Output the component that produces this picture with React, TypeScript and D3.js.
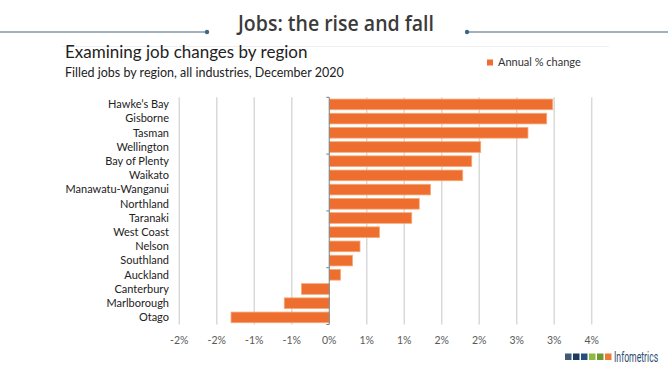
import React, { useEffect, useRef } from 'react';
import * as d3 from 'd3';

// Regions, top to bottom, and annual % change in filled jobs
const regions = [
  'Hawke\u2019s Bay', 'Gisborne', 'Tasman', 'Wellington', 'Bay of Plenty', 'Waikato',
  'Manawatu-Wanganui', 'Northland', 'Taranaki', 'West Coast', 'Nelson', 'Southland',
  'Auckland', 'Canterbury', 'Marlborough', 'Otago',
];
const annualChange = [
  2.98, 2.9, 2.65, 2.02, 1.9, 1.78, 1.35, 1.2, 1.1, 0.67, 0.41, 0.31, 0.15, -0.37, -0.6, -1.31,
];
const tickValues = [-2, -1.5, -1, -0.5, 0, 0.5, 1, 1.5, 2, 2.5, 3, 3.5];
const tickLabels = ['-2%', '-2%', '-1%', '-1%', '0%', '1%', '1%', '2%', '2%', '3%', '3%', '4%'];
const logoColors = ['#3e5b78', '#1d3b5e', '#24507f', '#8dbb3e', '#6f9a33', '#ee7a33'];

const App = () => {
  const chartRef = useRef<SVGSVGElement>(null);

  useEffect(() => {
    document.body.style.margin = '0';
    const width = 668;
    const height = 371;
    const font = 'Lato, "Open Sans", sans-serif';

    const svg = d3.select(chartRef.current)
      .attr('width', width)
      .attr('height', height)
      .style('display', 'block')
      .style('background', '#fff');
    svg.selectAll('*').remove();

    // Header
    const lineColor = '#45667f';
    svg.append('line').attr('x1', 0).attr('x2', 207).attr('y1', 32).attr('y2', 32)
      .attr('stroke', lineColor).attr('stroke-width', 1.2);
    svg.append('line').attr('x1', 467).attr('x2', width).attr('y1', 32).attr('y2', 32)
      .attr('stroke', lineColor).attr('stroke-width', 1.2);
    svg.append('circle').attr('cx', 207).attr('cy', 32).attr('r', 2.2).attr('fill', lineColor);
    svg.append('circle').attr('cx', 467).attr('cy', 32).attr('r', 2.2).attr('fill', lineColor);
    svg.append('text')
      .attr('x', 336).attr('y', 31)
      .attr('text-anchor', 'middle')
      .attr('font-family', '"Open Sans", sans-serif')
      .attr('font-weight', 600)
      .attr('font-size', 21)
      .attr('textLength', 196)
      .attr('lengthAdjust', 'spacingAndGlyphs')
      .attr('fill', '#3b3b3b')
      .text('Jobs: the rise and fall');
    svg.append('line').attr('x1', 62).attr('x2', 609).attr('y1', 46.5).attr('y2', 46.5)
      .attr('stroke', '#f0f0f0').attr('stroke-width', 1);

    svg.append('text')
      .attr('x', 65).attr('y', 58)
      .attr('font-family', font)
      .attr('font-size', 17)
      .attr('fill', '#222')
      .text('Examining job changes by region');
    svg.append('text')
      .attr('x', 65).attr('y', 77)
      .attr('font-family', font)
      .attr('font-size', 12.5)
      .attr('fill', '#222')
      .text('Filled jobs by region, all industries, December 2020');

    // Legend
    svg.append('rect').attr('x', 487).attr('y', 59.5).attr('width', 6).attr('height', 6)
      .attr('fill', '#ed6e2e');
    svg.append('text')
      .attr('x', 498).attr('y', 66)
      .attr('font-family', font)
      .attr('font-size', 11)
      .attr('fill', '#333')
      .text('Annual % change');

    // Scales
    const x = d3.scaleLinear().domain([-2, 3.5]).range([179.3, 591.7]);
    const y = d3.scaleBand().domain(regions).range([97.3, 324.5]).paddingInner(0.25).paddingOuter(0.125);
    const band = d3.scaleBand().domain(regions).range([97.3, 324.5]);

    // Gridlines
    svg.append('g')
      .selectAll('line')
      .data(tickValues.filter(v => v !== 0))
      .enter().append('line')
      .attr('x1', d => x(d)).attr('x2', d => x(d))
      .attr('y1', 97.3).attr('y2', 324.5)
      .attr('stroke', '#d9d9d9')
      .attr('stroke-width', 1.5);

    // Bars
    svg.append('g')
      .selectAll('rect')
      .data(annualChange)
      .enter().append('rect')
      .attr('x', d => x(Math.min(0, d)))
      .attr('y', (_, i) => y(regions[i]) as number)
      .attr('width', d => Math.abs(x(d) - x(0)))
      .attr('height', y.bandwidth())
      .attr('fill', '#ed6e2e')
      .attr('stroke', '#f6a878')
      .attr('stroke-width', 0.8);

    // Category axis at zero
    const yAxis = svg.append('g').attr('transform', `translate(${x(0)},0)`);
    yAxis.append('line').attr('x1', 0).attr('x2', 0).attr('y1', 97.3).attr('y2', 324.5)
      .attr('stroke', '#7f7f7f').attr('stroke-width', 1);
    yAxis.selectAll('line.tick')
      .data(regions.filter((_, i) => i % 4 === 0).concat(['__end']))
      .enter().append('line')
      .attr('class', 'tick')
      .attr('x1', -3).attr('x2', 0)
      .attr('y1', d => (d === '__end' ? 324.5 : (band(d) as number)))
      .attr('y2', d => (d === '__end' ? 324.5 : (band(d) as number)))
      .attr('stroke', '#7f7f7f');

    svg.append('g')
      .selectAll('text')
      .data(regions)
      .enter().append('text')
      .attr('x', 169)
      .attr('y', d => (band(d) as number) + band.bandwidth() / 2)
      .attr('dy', '0.35em')
      .attr('text-anchor', 'end')
      .attr('font-family', font)
      .attr('font-size', 11)
      .attr('fill', '#222')
      .text(d => d);

    // Value axis labels
    svg.append('g')
      .selectAll('text')
      .data(tickValues)
      .enter().append('text')
      .attr('x', d => x(d))
      .attr('y', 344)
      .attr('text-anchor', 'middle')
      .attr('font-family', font)
      .attr('font-size', 10.5)
      .attr('fill', '#595959')
      .text((_, i) => tickLabels[i]);

    // Logo
    const logo = svg.append('g');
    logo.selectAll('rect')
      .data(logoColors)
      .enter().append('rect')
      .attr('x', (_, i) => 565 + i * 8)
      .attr('y', 353.5)
      .attr('width', 6.5)
      .attr('height', 6.5)
      .attr('fill', d => d);
    logo.append('text')
      .attr('transform', 'translate(614,361.5) scale(0.62,1)')
      .attr('font-family', 'Roboto, sans-serif')
      .attr('font-size', 14)
      .attr('fill', '#2c4b6f')
      .text('Infometrics');
  }, []);

  return <svg ref={chartRef}></svg>;
};

export default App;
